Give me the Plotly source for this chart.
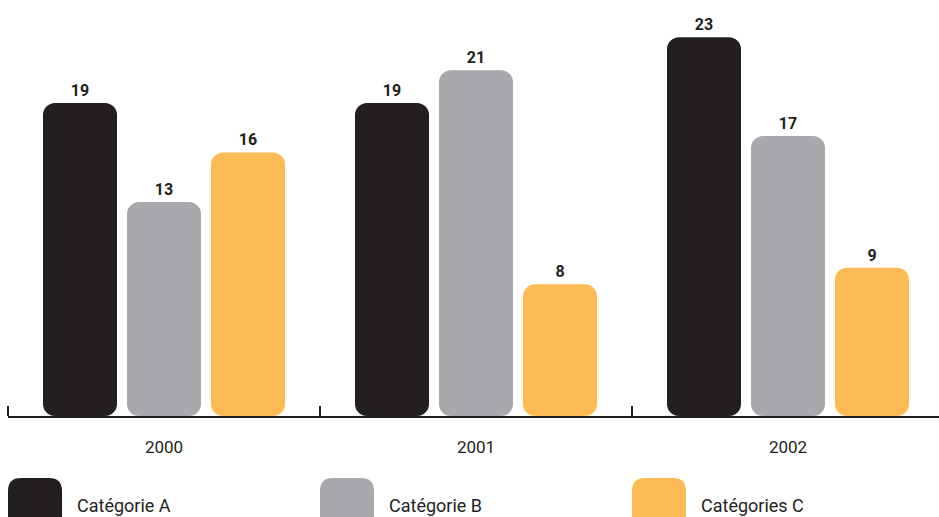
import plotly.graph_objects as go

# Data
years = ["2000", "2001", "2002"]
series_names = ["Catégorie A", "Catégorie B", "Catégories C"]
values_a = [19, 19, 23]
values_b = [13, 21, 17]
values_c = [16, 8, 9]

colors = ["#231f20", "#a7a9ac", "#fdbb55"]
FONT = "Roboto, Liberation Sans Narrow, DejaVu Sans Condensed, sans-serif"

W, H = 939, 517
PLOT_LEFT = 8
PLOT_BOTTOM = 416
GROUP_PX = 312
SLOT_PX = 84
BAR_PX = 74
PX_PER_UNIT = 16.47

x_pos = list(range(len(years)))
x_range = [-0.5, -0.5 + (W - PLOT_LEFT) / GROUP_PX]
y_range = [0, PLOT_BOTTOM / PX_PER_UNIT]

fig = go.Figure()

# Each bar is built from a bottom-rounded half, a top-rounded half and a middle
# piece over the seam, all sharing one slot, so both ends are rounded.
for i, (name, vals) in enumerate(zip(series_names, [values_a, values_b, values_c])):
    halves = [v / 2 for v in vals]
    quarters = [v / 4 for v in vals]
    common = dict(x=x_pos, offsetgroup=str(i), showlegend=False,
                  marker=dict(color=colors[i], cornerradius=12, line=dict(width=0)))
    fig.add_trace(go.Bar(y=[-h for h in halves], base=halves, hoverinfo="skip", **common))
    fig.add_trace(go.Bar(y=halves, base=quarters, hoverinfo="skip", **common))
    fig.add_trace(go.Bar(
        y=halves, base=halves, name=name,
        text=[str(v) for v in vals], textposition="outside", cliponaxis=False,
        textfont=dict(family=FONT, size=16, color="#231f20", weight="bold"),
        **common,
    ))

# Legend swatches and labels, placed below the axis at each group boundary
shapes = []
annotations = []

def rounded_rect(x0, x1, y0, y1, r):
    # y0 is the lower edge, y1 the upper edge (pixel offsets, up positive)
    return (f"M{x0+r},{y1} L{x1-r},{y1} Q{x1},{y1} {x1},{y1-r} "
            f"L{x1},{y0+r} Q{x1},{y0} {x1-r},{y0} L{x0+r},{y0} "
            f"Q{x0},{y0} {x0},{y0+r} L{x0},{y1-r} Q{x0},{y1} {x0+r},{y1} Z")

for i, name in enumerate(series_names):
    anchor = -0.5 + i
    shapes.append(dict(
        type="path", xref="x", yref="paper",
        xsizemode="pixel", ysizemode="pixel", xanchor=anchor, yanchor=0,
        path=rounded_rect(0, 54, -115, -62, 13),
        fillcolor=colors[i], line=dict(width=0), layer="above",
    ))
    annotations.append(dict(
        x=anchor, y=0, xref="x", yref="paper", xanchor="left", yanchor="middle",
        xshift=67, yshift=-89, showarrow=False, text=name,
        font=dict(family=FONT, size=18, color="#231f20"),
    ))

fig.update_layout(
    width=W, height=H,
    margin=dict(l=PLOT_LEFT, r=0, t=0, b=H - PLOT_BOTTOM),
    paper_bgcolor="white", plot_bgcolor="white",
    barmode="group",
    bargap=1 - 3 * SLOT_PX / GROUP_PX,
    bargroupgap=1 - BAR_PX / SLOT_PX,
    shapes=shapes, annotations=annotations,
    xaxis=dict(
        range=x_range, tickvals=x_pos, ticktext=years, ticks="",
        showgrid=False, zeroline=False,
        showline=True, linecolor="#231f20", linewidth=2,
        tickfont=dict(family=FONT, size=17, color="#231f20"),
        ticklabelstandoff=15,
        minor=dict(tick0=-0.5, dtick=1, ticks="inside", ticklen=10,
                   tickwidth=2, tickcolor="#231f20", showgrid=False),
        fixedrange=True,
    ),
    yaxis=dict(range=y_range, visible=False, fixedrange=True),
    showlegend=False,
)

fig.write_html("out.html")
